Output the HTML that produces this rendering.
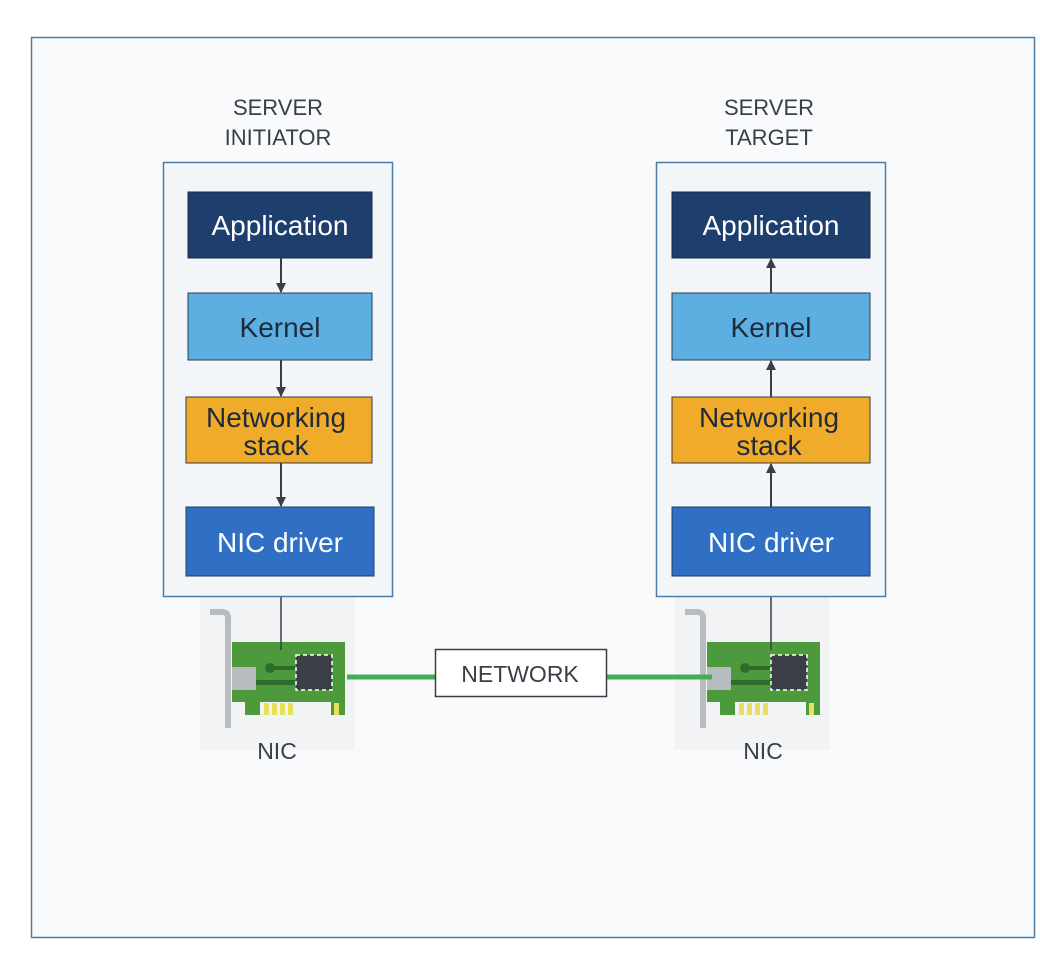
<!DOCTYPE html>
<html><head><meta charset="utf-8"><style>
html,body{margin:0;padding:0;background:#fff;}
svg{display:block;font-family:"Liberation Sans",Arial,sans-serif;}
</style></head><body>
<svg width="1040" height="956" viewBox="0 0 1040 956" xmlns="http://www.w3.org/2000/svg">
<defs>
<marker id="ah" markerWidth="10" markerHeight="10" refX="9" refY="5" orient="auto" markerUnits="userSpaceOnUse">
<path d="M0,0 L10,5 L0,10 z" fill="#3a3f47"/>
</marker>
<g id="nic">
<rect x="-12" y="-45" width="155" height="153" fill="#f1f3f4"/>
<path d="M-2,-30 L10,-30 Q16,-30 16,-24 L16,86" stroke="#b8bcc0" stroke-width="6" fill="none"/>
<path d="M20,0 H133 V73 H119 V60 H48 V73 H33 V60 H20 Z" fill="#4c9a3c"/>
<rect x="20" y="25" width="24" height="23" fill="#b9bcbf"/>
<circle cx="58" cy="26" r="5" fill="#2f6b2a"/>
<rect x="58" y="24" width="26" height="4" fill="#2f6b2a"/>
<rect x="44" y="38" width="40" height="5" fill="#2f6b2a"/>
<rect x="84" y="13" width="36" height="35" fill="#3a3f47" stroke="#ffffff" stroke-width="1.5" stroke-dasharray="4,3"/>
<rect x="52" y="61" width="5" height="12" fill="#e8df5a"/>
<rect x="60" y="61" width="5" height="12" fill="#e8df5a"/>
<rect x="68" y="61" width="5" height="12" fill="#e8df5a"/>
<rect x="76" y="61" width="5" height="12" fill="#e8df5a"/>
<rect x="122" y="61" width="5" height="12" fill="#e8df5a"/>
</g>
</defs>
<rect x="31.5" y="37.5" width="1003" height="900" fill="#f8fafc" stroke="#4b7da6" stroke-width="1.5"/>

<!-- NICs -->
<g transform="translate(212,642)"><use href="#nic"/></g>
<g transform="translate(687,642)"><use href="#nic"/></g>

<!-- labels -->
<g font-size="22" fill="#3a3f47" text-anchor="middle">
<text x="278" y="115">SERVER</text><text x="278" y="145">INITIATOR</text>
<text x="769" y="115">SERVER</text><text x="769" y="145">TARGET</text>
<text x="277" y="759" font-size="23">NIC</text><text x="763" y="759" font-size="23">NIC</text>
</g>

<!-- green links -->
<line x1="347" y1="677" x2="436" y2="677" stroke="#45ae55" stroke-width="5"/>
<line x1="606" y1="677" x2="712" y2="677" stroke="#45ae55" stroke-width="5"/>
<rect x="435.5" y="649.5" width="171" height="47" fill="#fff" stroke="#3a3f47" stroke-width="1.5"/>
<text x="520" y="682" font-size="23" text-anchor="middle" fill="#3a3f47">NETWORK</text>

<!-- vertical connections -->
<line x1="281" y1="596" x2="281" y2="650" stroke="#3a3f47" stroke-width="1.5"/>
<line x1="771" y1="596" x2="771" y2="650" stroke="#3a3f47" stroke-width="1.5"/>

<!-- server boxes -->
<rect x="163.5" y="162.5" width="229" height="434" fill="#f3f6f9" stroke="#4b7da6" stroke-width="1.5"/>
<rect x="656.5" y="162.5" width="229" height="434" fill="#f3f6f9" stroke="#4b7da6" stroke-width="1.5"/>

<g font-size="28" text-anchor="middle" fill="#fff">
<rect x="188" y="192" width="184" height="66" fill="#1e3e6d" stroke="#1a2c45"/>
<text x="280" y="235">Application</text>
<rect x="188" y="293" width="184" height="67" fill="#5dafe2" stroke="#2a3d52"/>
<text x="280" y="337" fill="#1e2b3a">Kernel</text>
<rect x="186" y="397" width="186" height="66" fill="#f0ab2a" stroke="#3a3a3a"/>
<text x="276" y="427" fill="#1e2b3a">Networking</text>
<text x="276" y="455" fill="#1e2b3a">stack</text>
<rect x="186" y="507" width="188" height="69" fill="#2f6fc4" stroke="#1f3d66"/>
<text x="280" y="552">NIC driver</text>

<rect x="672" y="192" width="198" height="66" fill="#1e3e6d" stroke="#1a2c45"/>
<text x="771" y="235">Application</text>
<rect x="672" y="293" width="198" height="67" fill="#5dafe2" stroke="#2a3d52"/>
<text x="771" y="337" fill="#1e2b3a">Kernel</text>
<rect x="672" y="397" width="198" height="66" fill="#f0ab2a" stroke="#3a3a3a"/>
<text x="769" y="427" fill="#1e2b3a">Networking</text>
<text x="769" y="455" fill="#1e2b3a">stack</text>
<rect x="672" y="507" width="198" height="69" fill="#2f6fc4" stroke="#1f3d66"/>
<text x="771" y="552">NIC driver</text>
</g>

<g stroke="#3a3f47" stroke-width="2">
<line x1="281" y1="258" x2="281" y2="292" marker-end="url(#ah)"/>
<line x1="281" y1="360" x2="281" y2="396" marker-end="url(#ah)"/>
<line x1="281" y1="463" x2="281" y2="506" marker-end="url(#ah)"/>
<line x1="771" y1="293" x2="771" y2="259" marker-end="url(#ah)"/>
<line x1="771" y1="397" x2="771" y2="361" marker-end="url(#ah)"/>
<line x1="771" y1="507" x2="771" y2="464" marker-end="url(#ah)"/>
</g>
</svg>
</body></html>
